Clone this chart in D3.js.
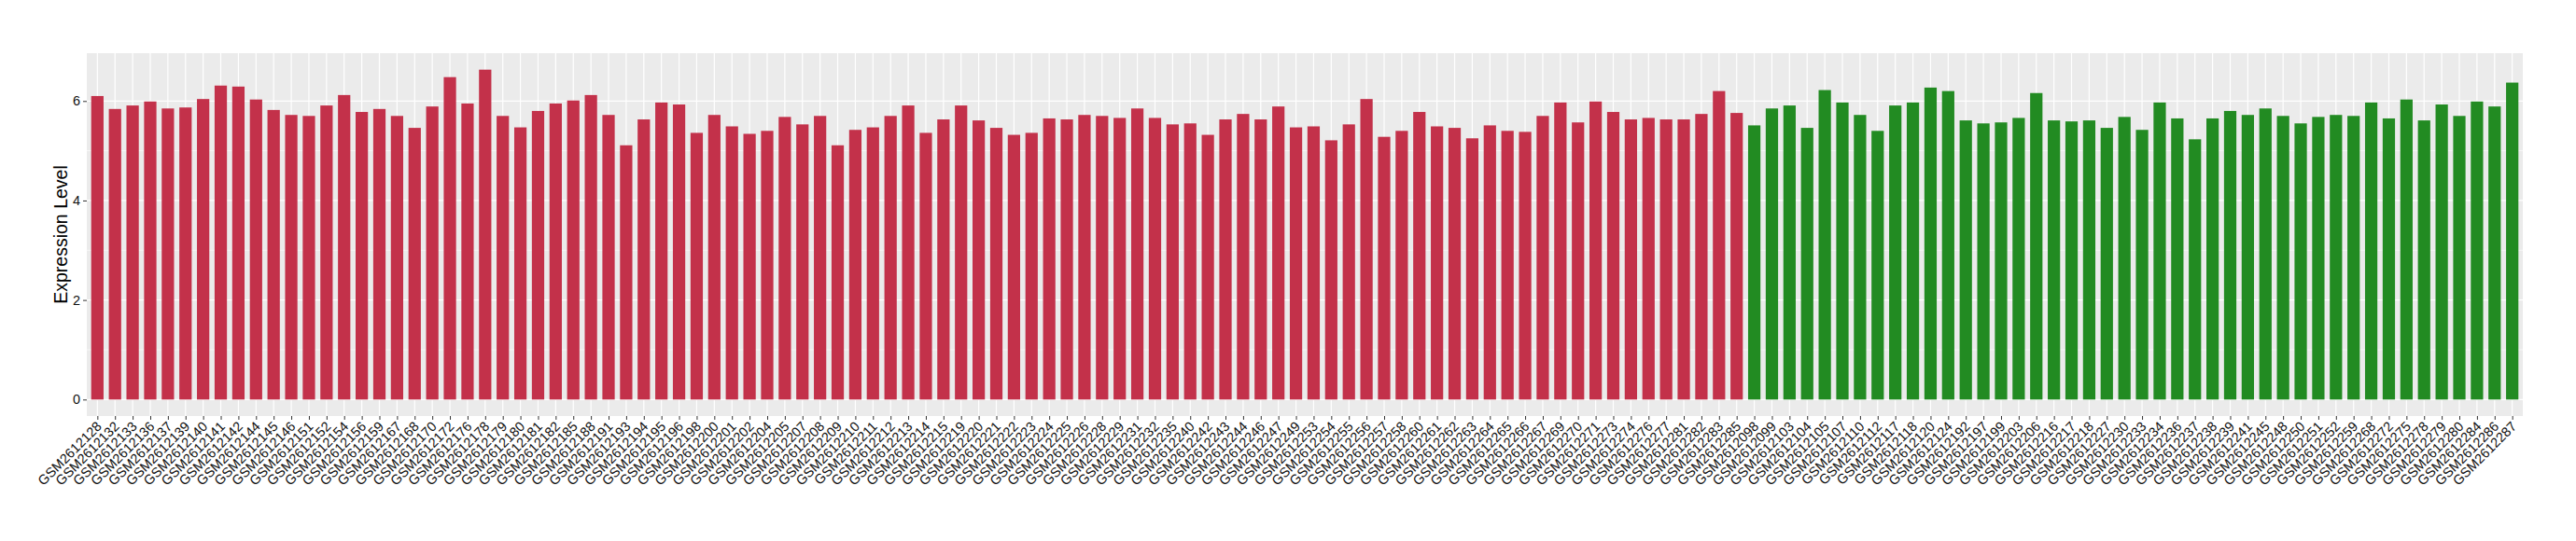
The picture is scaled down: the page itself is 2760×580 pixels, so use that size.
<!DOCTYPE html>
<meta charset="utf-8">
<script src="https://d3js.org/d3.v7.min.js"></script>
<style>
body { margin: 0; background: #fff; }
text { font-family: "Liberation Sans", Arial, Helvetica, sans-serif; }
</style>
<body>
<script>

// first group (red)
var redSamples = ["GSM2612128","GSM2612132","GSM2612133","GSM2612136","GSM2612137","GSM2612139","GSM2612140","GSM2612141","GSM2612142","GSM2612144",
  "GSM2612145","GSM2612146","GSM2612151","GSM2612152","GSM2612154","GSM2612156","GSM2612159","GSM2612167","GSM2612168","GSM2612170",
  "GSM2612172","GSM2612176","GSM2612178","GSM2612179","GSM2612180","GSM2612181","GSM2612182","GSM2612185","GSM2612188","GSM2612191",
  "GSM2612193","GSM2612194","GSM2612195","GSM2612196","GSM2612198","GSM2612200","GSM2612201","GSM2612202","GSM2612204","GSM2612205",
  "GSM2612207","GSM2612208","GSM2612209","GSM2612210","GSM2612211","GSM2612212","GSM2612213","GSM2612214","GSM2612215","GSM2612219",
  "GSM2612220","GSM2612221","GSM2612222","GSM2612223","GSM2612224","GSM2612225","GSM2612226","GSM2612228","GSM2612229","GSM2612231",
  "GSM2612232","GSM2612235","GSM2612240","GSM2612242","GSM2612243","GSM2612244","GSM2612246","GSM2612247","GSM2612249","GSM2612253",
  "GSM2612254","GSM2612255","GSM2612256","GSM2612257","GSM2612258","GSM2612260","GSM2612261","GSM2612262","GSM2612263","GSM2612264",
  "GSM2612265","GSM2612266","GSM2612267","GSM2612269","GSM2612270","GSM2612271","GSM2612273","GSM2612274","GSM2612276","GSM2612277",
  "GSM2612281","GSM2612282","GSM2612283","GSM2612285"];
var redValues = [6.10,5.84,5.91,5.99,5.85,5.87,6.04,6.31,6.29,6.03,
  5.82,5.72,5.70,5.91,6.12,5.78,5.84,5.70,5.46,5.89,
  6.48,5.95,6.63,5.70,5.47,5.80,5.95,6.01,6.12,5.72,
  5.11,5.63,5.97,5.93,5.36,5.72,5.49,5.34,5.40,5.68,
  5.53,5.70,5.11,5.42,5.47,5.70,5.91,5.36,5.63,5.91,
  5.61,5.46,5.32,5.36,5.65,5.63,5.72,5.70,5.66,5.85,
  5.66,5.53,5.55,5.32,5.63,5.74,5.63,5.89,5.47,5.49,
  5.21,5.53,6.04,5.28,5.40,5.78,5.49,5.46,5.25,5.51,
  5.40,5.38,5.70,5.97,5.57,5.99,5.78,5.63,5.66,5.63,
  5.63,5.74,6.20,5.76];

// second group (green)
var greenSamples = ["GSM2612098","GSM2612099","GSM2612103","GSM2612104","GSM2612105","GSM2612107","GSM2612110","GSM2612112","GSM2612117","GSM2612118",
  "GSM2612120","GSM2612124","GSM2612192","GSM2612197","GSM2612199","GSM2612203","GSM2612206","GSM2612216","GSM2612217","GSM2612218",
  "GSM2612227","GSM2612230","GSM2612233","GSM2612234","GSM2612236","GSM2612237","GSM2612238","GSM2612239","GSM2612241","GSM2612245",
  "GSM2612248","GSM2612250","GSM2612251","GSM2612252","GSM2612259","GSM2612268","GSM2612272","GSM2612275","GSM2612278","GSM2612279",
  "GSM2612280","GSM2612284","GSM2612286","GSM2612287"];
var greenValues = [5.51,5.85,5.91,5.46,6.22,5.97,5.72,5.40,5.91,5.97,
  6.27,6.20,5.61,5.55,5.57,5.66,6.16,5.61,5.59,5.61,
  5.46,5.68,5.42,5.97,5.65,5.23,5.65,5.80,5.72,5.85,
  5.70,5.55,5.68,5.72,5.70,5.97,5.65,6.03,5.61,5.93,
  5.70,5.99,5.89,6.37];

var yTicks = [0, 2, 4, 6];
var yMinor = [1, 3, 5];
var groupColors = {red: "#c3314a", green: "#228b22"};

var data = [];
redSamples.forEach(function(s, i) { data.push({sample: s, value: redValues[i], group: "red"}); });
greenSamples.forEach(function(s, i) { data.push({sample: s, value: greenValues[i], group: "green"}); });

var width = 2760,
    height = 580;

var panel = {left: 93, right: 2703, top: 57, bottom: 446};

var svg = d3.select("body").append("svg")
    .attr("width", width)
    .attr("height", height);

var ymax = d3.max(data, function(d) { return d.value; });

var x = d3.scalePoint()
    .domain(data.map(function(d) { return d.sample; }))
    .range([panel.left, panel.right])
    .padding(0.6);

var y = d3.scaleLinear()
    .domain([-0.05 * ymax, 1.05 * ymax])
    .range([panel.bottom, panel.top]);

var barWidth = x.step() * 0.7;

// panel background
svg.append("rect")
    .attr("x", panel.left)
    .attr("y", panel.top)
    .attr("width", panel.right - panel.left)
    .attr("height", panel.bottom - panel.top)
    .attr("fill", "#ebebeb");

// grid lines
var grid = svg.append("g");
grid.selectAll(".minor")
    .data(yMinor)
    .enter().append("line")
    .attr("x1", panel.left).attr("x2", panel.right)
    .attr("y1", function(d) { return y(d); })
    .attr("y2", function(d) { return y(d); })
    .attr("stroke", "#fff")
    .attr("stroke-width", 0.6);

grid.selectAll(".major")
    .data(yTicks)
    .enter().append("line")
    .attr("x1", panel.left).attr("x2", panel.right)
    .attr("y1", function(d) { return y(d); })
    .attr("y2", function(d) { return y(d); })
    .attr("stroke", "#fff")
    .attr("stroke-width", 1.2);

grid.selectAll(".vert")
    .data(data)
    .enter().append("line")
    .attr("x1", function(d) { return x(d.sample); })
    .attr("x2", function(d) { return x(d.sample); })
    .attr("y1", panel.top).attr("y2", panel.bottom)
    .attr("stroke", "#fff")
    .attr("stroke-width", 1.2);

// bars
svg.append("g")
    .selectAll("rect")
    .data(data)
    .enter().append("rect")
    .attr("x", function(d) { return x(d.sample) - barWidth / 2; })
    .attr("y", function(d) { return y(d.value); })
    .attr("width", barWidth)
    .attr("height", function(d) { return y(0) - y(d.value); })
    .attr("fill", function(d) { return groupColors[d.group]; });

// y axis
var yAxis = svg.append("g")
    .attr("transform", "translate(" + panel.left + ",0)")
    .call(d3.axisLeft(y).tickValues(yTicks).tickSize(4).tickPadding(3).tickFormat(d3.format("d")));
yAxis.select(".domain").remove();
yAxis.selectAll("line").attr("stroke", "#333");
yAxis.selectAll("text")
    .attr("fill", "#111")
    .style("font-size", "14.5px")
    .style("font-family", "'Liberation Sans', Arial, sans-serif");

// x axis, labels turned 45 degrees
var xAxis = svg.append("g")
    .attr("transform", "translate(0," + panel.bottom + ")")
    .call(d3.axisBottom(x).tickSize(4).tickPadding(0));
xAxis.select(".domain").remove();
xAxis.selectAll("line").attr("stroke", "#333");
xAxis.selectAll("text")
    .attr("fill", "#111")
    .style("font-size", "14.5px")
    .style("font-family", "'Liberation Sans', Arial, sans-serif")
    .attr("text-anchor", "end")
    .attr("dy", null)
    .attr("y", null)
    .attr("transform", "translate(5,12) rotate(-45)");

// y title
svg.append("text")
    .attr("transform", "translate(72," + ((panel.top + panel.bottom) / 2) + ") rotate(-90)")
    .attr("text-anchor", "middle")
    .style("font-size", "19.5px")
    .attr("fill", "#000")
    .text("Expression Level");

</script>
</body>
